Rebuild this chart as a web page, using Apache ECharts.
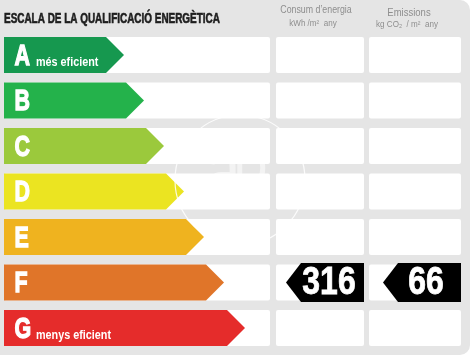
<!DOCTYPE html>
<html>
<head>
<meta charset="utf-8">
<script src="https://cdn.jsdelivr.net/npm/echarts@6/dist/echarts.min.js"></script>
<style>html,body{margin:0;padding:0;background:#fff}#c{width:475px;height:362px}</style>
</head>
<body>
<div id="c"></div>
<script>
// ---- data ----
const categories = ['A', 'B', 'C', 'D', 'E', 'F', 'G'];
const arrowLength = [120, 140, 160, 180, 200, 220, 241];
const subLabels = ['més eficient', '', '', '', '', '', 'menys eficient'];
const consumValues = [null, null, null, null, null, 316, null];
const emissionValues = [null, null, null, null, null, 66, null];
const titleText = 'ESCALA DE LA QUALIFICACIÓ ENERGÈTICA';
const consumHeader = ['Consum d\u2019energia', 'kWh /m²  any'];
const emissionHeader = ['Emissions', 'kg CO₂  / m²  any'];

// ---- style ----
const palette = ['#16984f', '#24b24b', '#9bc93c', '#ebe421', '#efb31f', '#e07529', '#e52c2b'];
const FONT = '"Liberation Sans",Arial,sans-serif';
const CELL_H = 36;

const chart = echarts.init(document.getElementById('c'), null, {renderer: 'canvas'});

const gridTop = 32.25, gridH = 318.5;
const grids = [
  {left: 4, top: gridTop, width: 266, height: gridH},
  {left: 276, top: gridTop, width: 88, height: gridH},
  {left: 369, top: gridTop, width: 92, height: gridH}
];
const xAxes = [
  {gridIndex: 0, type: 'value', min: 0, max: 266, show: false},
  {gridIndex: 1, type: 'value', min: 0, max: 1, show: false},
  {gridIndex: 2, type: 'value', min: 0, max: 1, show: false}
];
const yAxes = [0, 1, 2].map(i => ({gridIndex: i, type: 'category', data: categories, inverse: true, show: false}));

function cellRender(params, api) {
  const cs = params.coordSys;
  const cy = api.coord([0, api.value(0)])[1];
  return {type: 'rect', shape: {x: cs.x, y: cy - CELL_H / 2, width: cs.width, height: CELL_H, r: 2}, style: {fill: '#fff'}};
}

function arrowRender(params, api) {
  const idx = api.value(1);
  const tip = api.coord([api.value(0), idx]);
  const x0 = api.coord([0, idx])[0];
  const cy = tip[1], h = CELL_H / 2;
  const children = [{
    type: 'polygon',
    shape: {points: [[x0, cy - h], [tip[0] - h, cy - h], [tip[0], cy], [tip[0] - h, cy + h], [x0, cy + h]]},
    style: {fill: palette[idx]}
  }, {
    type: 'text', x: x0 + 10.5, y: cy + 1.5, scaleX: 0.74,
    style: {x: 0, y: 0, text: categories[idx], fill: '#fff', stroke: '#fff', lineWidth: 1.3, font: 'bold 29px ' + FONT, verticalAlign: 'middle', align: 'left'}
  }];
  if (subLabels[idx]) {
    children.push({
      type: 'text', x: x0 + 32, y: cy + 8, scaleX: 0.9,
      style: {x: 0, y: 0, text: subLabels[idx], fill: '#fff', font: 'bold 12px ' + FONT, verticalAlign: 'middle', align: 'left'}
    });
  }
  return {type: 'group', children};
}

function tagRender(params, api) {
  const cs = params.coordSys;
  const idx = api.value(1);
  const cy = api.coord([0, idx])[1];
  const right = cs.x + cs.width;
  const w = 78, hh = 19.5, head = 15;
  const left = right - w;
  return {type: 'group', children: [{
    type: 'polygon',
    shape: {points: [[left, cy], [left + head, cy - hh], [right, cy - hh], [right, cy + hh], [left + head, cy + hh]]},
    style: {fill: '#000'}
  }, {
    type: 'text', x: left + w / 2 + 4, y: cy + 1, scaleX: 0.84,
    style: {x: 0, y: 0, text: String(api.value(0)), fill: '#fff', stroke: '#fff', lineWidth: 0.8, font: 'bold 38px ' + FONT, align: 'center', verticalAlign: 'middle'}
  }]};
}

const cellData = categories.map((c, i) => [i]);
const series = [];
[0, 1, 2].forEach(g => series.push({type: 'custom', xAxisIndex: g, yAxisIndex: g, data: cellData, renderItem: cellRender, silent: true, z: 1}));
series.push({type: 'custom', xAxisIndex: 0, yAxisIndex: 0, data: arrowLength.map((v, i) => [v, i]), renderItem: arrowRender, z: 3, encode: {x: 0, y: 1}});
series.push({type: 'custom', xAxisIndex: 1, yAxisIndex: 1, data: consumValues.map((v, i) => v == null ? null : [v, i]).filter(d => d), renderItem: tagRender, z: 3});
series.push({type: 'custom', xAxisIndex: 2, yAxisIndex: 2, data: emissionValues.map((v, i) => v == null ? null : [v, i]).filter(d => d), renderItem: tagRender, z: 3});

const headColor = '#8e8e8e';
chart.setOption({
  animation: false,
  backgroundColor: '#fff',
  grid: grids, xAxis: xAxes, yAxis: yAxes,
  series,
  graphic: [
    {type: 'rect', z: -10, shape: {x: -10, y: 0, width: 480, height: 355, r: [0, 10, 10, 0]}, style: {fill: '#e5e5e5'}, silent: true},
    {type: 'text', z: 10, x: 4, y: 19, scaleX: 0.71, style: {x: 0, y: 0, text: titleText, fill: '#1e1e1e', stroke: '#1e1e1e', lineWidth: 0.6, font: 'bold 14px ' + FONT, verticalAlign: 'middle'}},
    {type: 'text', z: 10, x: 316, y: 10.5, scaleX: 0.88, style: {x: 0, y: 0, text: consumHeader[0], fill: headColor, font: '10px ' + FONT, align: 'center', verticalAlign: 'middle'}},
    {type: 'text', z: 10, x: 313, y: 23.5, scaleX: 0.95, style: {x: 0, y: 0, text: consumHeader[1], fill: headColor, font: '8.5px ' + FONT, align: 'center', verticalAlign: 'middle'}},
    {type: 'text', z: 10, x: 409, y: 13.5, scaleX: 0.95, style: {x: 0, y: 0, text: emissionHeader[0], fill: headColor, font: '10px ' + FONT, align: 'center', verticalAlign: 'middle'}},
    {type: 'text', z: 10, x: 407, y: 24.5, scaleX: 0.95, style: {x: 0, y: 0, text: emissionHeader[1], fill: headColor, font: '8.5px ' + FONT, align: 'center', verticalAlign: 'middle'}},
    {type: 'circle', z: 50, silent: true, shape: {cx: 240, cy: 180, r: 65}, style: {fill: 'none', stroke: 'rgba(255,255,255,0.85)', lineWidth: 1.2}},
    {type: 'text', z: 50, silent: true, x: 204, y: 232, scaleX: 0.6, style: {x: 0, y: 0, text: 'a', fill: 'rgba(255,255,255,0.55)', font: '110px ' + FONT, align: 'left', verticalAlign: 'bottom'}},
    {type: 'text', z: 50, silent: true, x: 233, y: 225, scaleX: 0.64, style: {x: 0, y: 0, text: 'P', fill: 'rgba(255,255,255,0.55)', font: '82px ' + FONT, align: 'left', verticalAlign: 'bottom'}}
  ]
});
</script>
</body>
</html>
